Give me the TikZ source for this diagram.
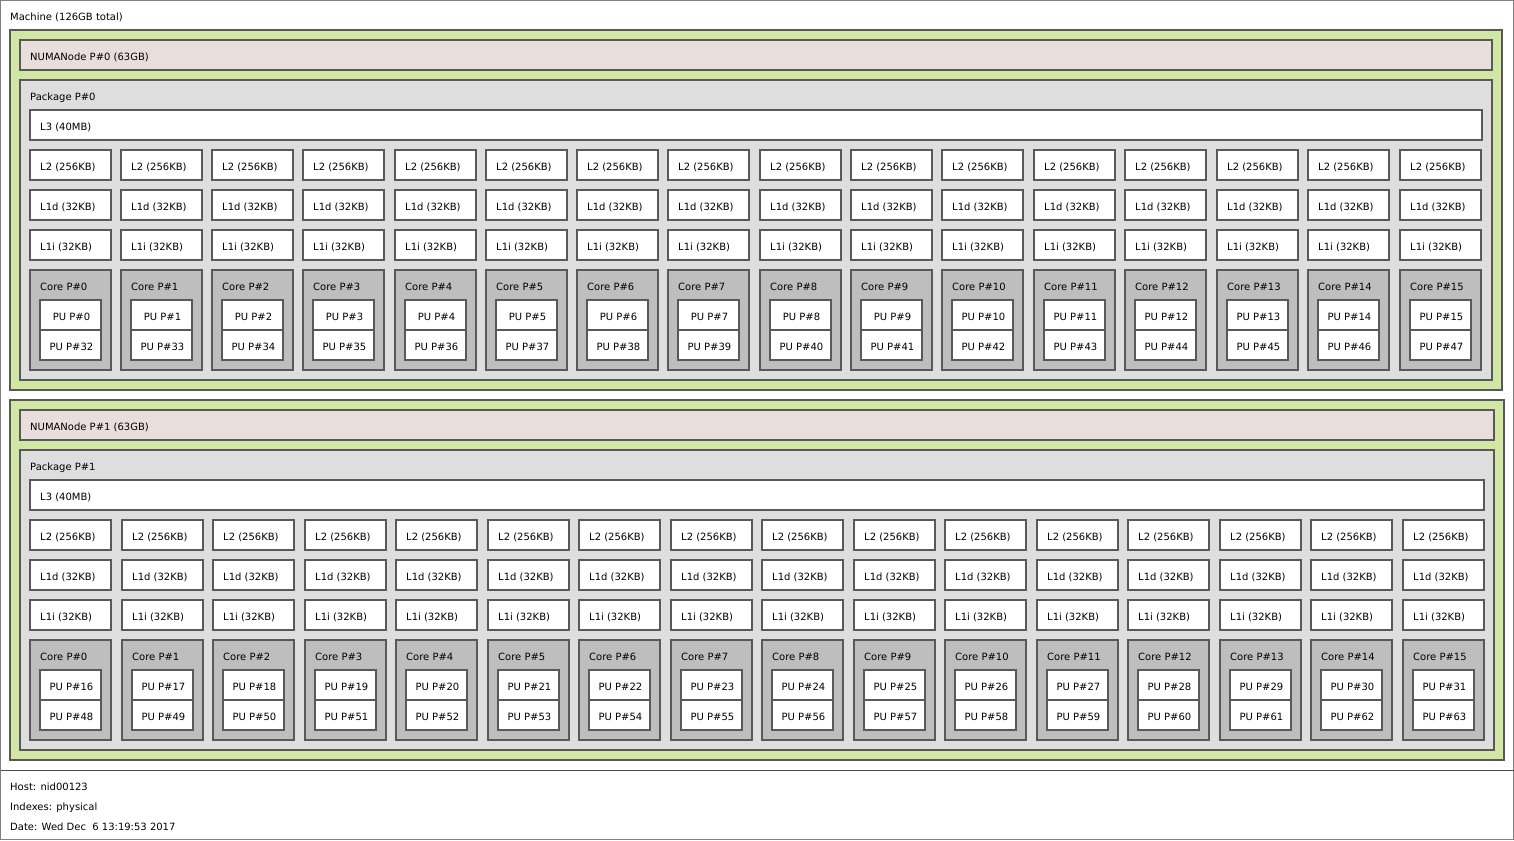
\documentclass[tikz,border=0pt]{standalone}
\usepackage{fontspec}
\setmainfont{DejaVu Sans}
\definecolor{grp}{RGB}{210,231,164}
\definecolor{numac}{RGB}{232,222,220}
\definecolor{pkgc}{RGB}{222,222,222}
\definecolor{corec}{RGB}{190,190,190}
\begin{document}
\begin{tikzpicture}[x=1pt,y=-1pt,
  box/.style={draw=black!65,line width=1.1pt},
  lbl/.style={anchor=base west,inner sep=0pt,font=\fontsize{10}{12}\selectfont},
  pulbl/.style={anchor=base,inner sep=0pt,font=\fontsize{10}{12}\selectfont}]
\useasboundingbox (0,0) rectangle (1514,840);
% machine
\draw[draw=black!50,line width=1pt,fill=white] (0.5,0.5) rectangle (1513.5,839.5);
\node[lbl] (machine) at (10,20.3) {Machine (126GB total)};
\coordinate (legl) at (0.5,770);
\coordinate (legr) at (1513.5,770);
\draw[draw=black!70,line width=1pt] (legl) -- (legr);
\node[lbl] (host) at (10,790.3) {Host: nid00123};
\node[lbl] (idx) at (10,810.3) {Indexes: physical};
\node[lbl] (date) at (10,830.3) {Date: Wed Dec\ \ 6 13:19:53 2017};
\foreach \p/\oy/\ext/\cols in {0/0/0/{30,121,212,303,395,486,577,668,760,851,942,1034,1125,1217,1308,1400},1/370/2/{30,122,213,305,396,488,579,671,762,854,945,1037,1128,1220,1311,1403}}{
  \draw[box,fill=grp] (10,30+\oy) rectangle (1502+\ext,390+\oy);
  \draw[box,fill=numac] (20,40+\oy) rectangle (1492+\ext,70+\oy);
  \node[lbl] (numa\p) at (30,60.3+\oy) {NUMANode P\#\p\ (63GB)};
  \draw[box,fill=pkgc] (20,80+\oy) rectangle (1492+\ext,380+\oy);
  \node[lbl] (pkg\p) at (30,100.3+\oy) {Package P\#\p};
  \draw[box,fill=white] (30,110+\oy) rectangle (1482+\ext,140+\oy);
  \node[lbl] (l3\p) at (40,130.3+\oy) {L3 (40MB)};
  \foreach \x [count=\i from 0] in \cols {
    \pgfmathtruncatemacro\pua{\i+16*\p}
    \pgfmathtruncatemacro\pub{\i+16*\p+32}
    \draw[box,fill=white] (\x,150+\oy) rectangle (\x+81,180+\oy);
    \node[lbl] (l2-\p-\i) at (\x+10,170.3+\oy) {L2 (256KB)};
    \draw[box,fill=white] (\x,190+\oy) rectangle (\x+81,220+\oy);
    \node[lbl] (l1d-\p-\i) at (\x+10,210.3+\oy) {L1d (32KB)};
    \draw[box,fill=white] (\x,230+\oy) rectangle (\x+81,260+\oy);
    \node[lbl] (l1i-\p-\i) at (\x+10,250.3+\oy) {L1i (32KB)};
    \draw[box,fill=corec] (\x,270+\oy) rectangle (\x+81,370+\oy);
    \node[lbl] (core-\p-\i) at (\x+10,290.3+\oy) {Core P\#\i};
    \draw[box,fill=white] (\x+10,300+\oy) rectangle (\x+71,330+\oy);
    \node[pulbl] (pu-\pua) at (\x+41.5,320.3+\oy) {PU P\#\pua};
    \draw[box,fill=white] (\x+10,330+\oy) rectangle (\x+71,360+\oy);
    \node[pulbl] (pu-\pub) at (\x+41.5,350.3+\oy) {PU P\#\pub};
  }
}
\end{tikzpicture}
\end{document}
